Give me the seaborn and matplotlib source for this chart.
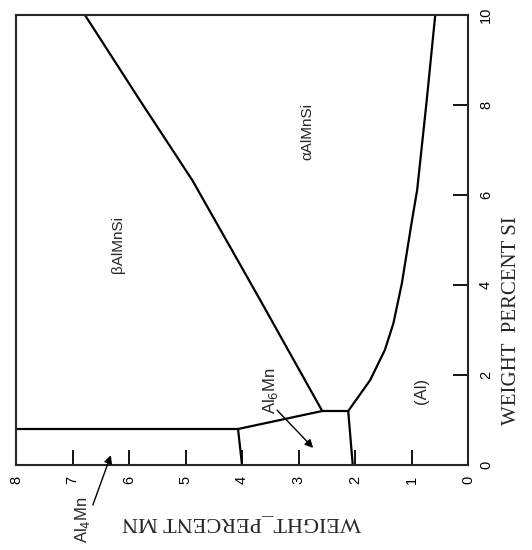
import matplotlib
matplotlib.use("Agg")
import matplotlib.pyplot as plt
import seaborn as sns
import pandas as pd

# Phase boundaries of the Al-rich corner (Mn, Si in wt.%)
beta_mn = [6.78, 5.81, 4.88, 3.68, 2.58]
beta_si = [10.0, 8.11, 6.33, 3.67, 1.20]

al_mn = [2.12, 1.95, 1.73, 1.47, 1.32, 1.17, 1.00, 0.90, 0.73, 0.58]
al_si = [1.20, 1.50, 1.89, 2.56, 3.15, 4.04, 5.37, 6.11, 8.11, 10.0]

al4_mn = [8.0, 4.07]
al4_si = [0.80, 0.80]

al6_mn = [4.07, 2.58, 2.12]
al6_si = [0.80, 1.20, 1.20]

mn4_mn = [4.07, 4.00]
mn4_si = [0.80, 0.00]

mn2_mn = [2.12, 2.04]
mn2_si = [1.20, 0.00]

mn_ticks = [0, 1, 2, 3, 4, 5, 6, 7, 8]
si_ticks = [0, 2, 4, 6, 8, 10]

sns.set_style("ticks")
plt.rcParams["font.family"] = ["Liberation Sans", "DejaVu Sans"]

fig = plt.figure(figsize=(5.32, 5.5), dpi=100)
ax = fig.add_axes([16 / 532, 1 - 465 / 550, 452 / 532, 450 / 550])

lw = 1.6
for xs, ys in [(beta_mn, beta_si), (al_mn, al_si), (al4_mn, al4_si),
               (al6_mn, al6_si), (mn4_mn, mn4_si), (mn2_mn, mn2_si)]:
    df = pd.DataFrame({"mn": xs, "si": ys})
    sns.lineplot(data=df, x="mn", y="si", sort=False, estimator=None,
                 color="black", linewidth=lw, ax=ax)

ax.set_xlim(8, 0)
ax.set_ylim(0, 10)
ax.set_xticks(mn_ticks)
ax.set_yticks(si_ticks)
ax.yaxis.tick_right()
ax.yaxis.set_label_position("right")
for s in ax.spines.values():
    s.set_visible(True)
    s.set_linewidth(1.5)
ax.tick_params(axis="both", direction="in", length=11, width=1.3,
               labelsize=10.5, pad=8, colors="black")
ax.tick_params(axis="x", top=False)
ax.tick_params(axis="y", left=False)
for t in ax.get_xticklabels():
    t.set_rotation(90)
    t.set_va("top")
    t.set_ha("center")
for t in ax.get_yticklabels():
    t.set_rotation(90)
    t.set_va("center")
    t.set_ha("left")

serif = ["Liberation Serif", "DejaVu Serif"]
ax.set_xlabel("WEIGHT_PERCENT MN", family=serif, fontsize=16, rotation=180)
ax.xaxis.set_label_coords(0.5, -0.128)
ax.xaxis.label.set_va("center")
ax.set_ylabel("WEIGHT  PERCENT SI", family=serif, fontsize=15, rotation=90)
ax.yaxis.set_label_coords(1.097, 0.32)
ax.yaxis.label.set_va("center")
ax.yaxis.label.set_ha("center")

# Phase field labels
ax.text(6.20, 4.9, "βAlMnSi", rotation=90, fontsize=11, ha="center", va="center")
ax.text(2.85, 7.4, "αAlMnSi", rotation=90, fontsize=11, ha="center", va="center")
ax.text(0.82, 1.65, "(Al)", rotation=90, fontsize=12, ha="center", va="center")
ax.text(3.50, 1.66, r"Al$_6$Mn", rotation=90, fontsize=12, ha="center", va="center")
ax.annotate("", xy=(2.74, 0.38), xytext=(3.38, 1.22),
            arrowprops=dict(arrowstyle="-|>", color="black", lw=1.0,
                            mutation_scale=12, shrinkA=0, shrinkB=0))
ax.text(6.83, -1.22, r"Al$_4$Mn", rotation=90, fontsize=12,
        ha="center", va="center", clip_on=False)
ax.annotate("", xy=(6.32, 0.22), xytext=(6.64, -0.89),
            annotation_clip=False,
            arrowprops=dict(arrowstyle="-|>", color="black", lw=1.0,
                            mutation_scale=12, shrinkA=0, shrinkB=0))

fig.savefig("out.png", dpi=100)
